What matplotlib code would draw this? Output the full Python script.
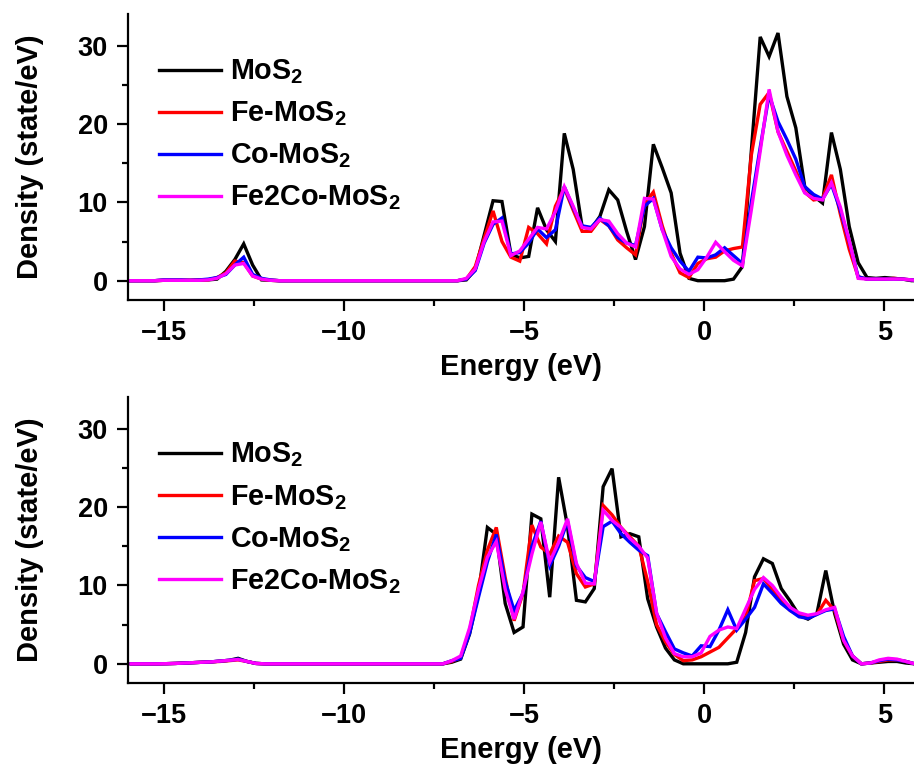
import numpy as np
import matplotlib
matplotlib.use("Agg")
import matplotlib.pyplot as plt
from matplotlib.ticker import MultipleLocator

plt.rcParams["font.family"] = ["Liberation Sans", "DejaVu Sans"]
plt.rcParams["font.weight"] = "bold"
plt.rcParams["mathtext.fontset"] = "custom"
plt.rcParams["mathtext.rm"] = "Liberation Sans:bold"
plt.rcParams["mathtext.bf"] = "Liberation Sans:bold"
plt.rcParams["axes.unicode_minus"] = True

# Energy grids (eV) of the two DOS panels
energy_top = np.linspace(-16.0, 6.0, 90)
energy_bottom = np.linspace(-15.91, 6.09, 90)

series_labels = [r"MoS$_\mathbf{2}$", r"Fe-MoS$_\mathbf{2}$",
                 r"Co-MoS$_\mathbf{2}$", r"Fe2Co-MoS$_\mathbf{2}$"]
series_colors = ["#000000", "#ff0000", "#0000ff", "#ff00ff"]

# ---- upper panel: density of states (state/eV) ----
mos2_top = [
    0.0, 0.0, 0.0, 0.0, 0.05, 0.05, 0.05, 0.05, 0.1, 0.1,
    0.2, 1.2, 2.7, 4.7, 2.0, 0.1, 0.05, 0.0, 0.0, 0.0,
    0.0, 0.0, 0.0, 0.0, 0.0, 0.0, 0.0, 0.0, 0.0, 0.0,
    0.0, 0.0, 0.0, 0.0, 0.0, 0.0, 0.0, 0.0, 0.1, 1.4,
    5.8, 10.2, 10.1, 3.4, 2.9, 3.1, 9.3, 6.5, 5.0, 18.8,
    14.2, 6.9, 6.6, 8.2, 11.6, 10.3, 6.3, 2.7, 6.9, 17.4,
    14.4, 11.2, 3.5, 0.3, 0.0, 0.0, 0.0, 0.0, 0.2, 1.8,
    16.5, 31.1, 28.6, 31.6, 23.5, 19.5, 12.0, 10.8, 9.9, 18.9,
    14.2, 6.9, 2.3, 0.4, 0.3, 0.4, 0.3, 0.2, 0.0, 0.0,
]
fe_top = [
    0.0, 0.0, 0.0, 0.0, 0.05, 0.05, 0.05, 0.05, 0.05, 0.1,
    0.4, 1.0, 2.5, 2.3, 0.6, 0.2, 0.05, 0.0, 0.0, 0.0,
    0.0, 0.0, 0.0, 0.0, 0.0, 0.0, 0.0, 0.0, 0.0, 0.0,
    0.0, 0.0, 0.0, 0.0, 0.0, 0.0, 0.0, 0.0, 0.2, 1.8,
    5.4, 8.9, 5.0, 3.0, 2.5, 6.8, 6.0, 4.7, 9.5, 11.8,
    9.0, 6.3, 6.3, 7.8, 7.0, 5.2, 4.2, 3.3, 9.8, 11.3,
    7.0, 3.5, 1.0, 0.4, 2.2, 2.8, 3.0, 3.8, 4.1, 4.3,
    16.0, 22.5, 24.0, 19.0, 16.5, 14.0, 11.3, 10.3, 10.5, 13.5,
    8.5, 4.0, 0.5, 0.2, 0.2, 0.2, 0.3, 0.2, 0.1, 0.0,
]
co_top = [
    0.0, 0.0, 0.0, 0.0, 0.1, 0.1, 0.1, 0.05, 0.1, 0.2,
    0.4, 0.8, 2.0, 3.0, 0.8, 0.3, 0.1, 0.0, 0.0, 0.0,
    0.0, 0.0, 0.0, 0.0, 0.0, 0.0, 0.0, 0.0, 0.0, 0.0,
    0.0, 0.0, 0.0, 0.0, 0.0, 0.0, 0.0, 0.0, 0.2, 1.3,
    4.8, 7.2, 8.0, 3.4, 3.6, 4.8, 6.6, 5.5, 6.5, 12.0,
    9.3, 7.0, 6.8, 8.0, 7.0, 5.5, 4.8, 4.5, 9.5, 10.5,
    6.5, 4.2, 2.5, 1.2, 3.0, 2.9, 3.3, 4.2, 3.2, 2.2,
    10.0, 17.0, 23.7, 20.3, 18.0, 15.5, 12.0, 11.0, 10.4, 12.3,
    9.0, 5.0, 0.5, 0.2, 0.2, 0.2, 0.2, 0.2, 0.1, 0.0,
]
fe2co_top = [
    0.0, 0.0, 0.0, 0.0, 0.05, 0.05, 0.05, 0.05, 0.05, 0.1,
    0.3, 0.9, 2.0, 2.2, 0.6, 0.2, 0.05, 0.0, 0.0, 0.0,
    0.0, 0.0, 0.0, 0.0, 0.0, 0.0, 0.0, 0.0, 0.0, 0.0,
    0.0, 0.0, 0.0, 0.0, 0.0, 0.0, 0.0, 0.0, 0.3, 1.5,
    5.0, 7.5, 7.6, 3.2, 3.8, 5.3, 6.8, 6.6, 8.8, 12.0,
    9.5, 6.8, 6.6, 7.8, 7.6, 6.0, 4.8, 4.3, 10.5, 10.4,
    6.5, 3.1, 1.5, 0.8, 1.4, 3.0, 4.9, 3.7, 2.6, 1.9,
    9.0, 16.5, 24.4, 19.0, 16.0, 13.5, 11.2, 10.5, 10.3, 12.5,
    9.4, 5.1, 0.3, 0.2, 0.2, 0.2, 0.2, 0.2, 0.1, 0.0,
]

# ---- lower panel: density of states (state/eV) ----
mos2_bottom = [
    0.0, 0.0, 0.0, 0.0, 0.02, 0.05, 0.1, 0.15, 0.2, 0.25,
    0.35, 0.45, 0.7, 0.3, 0.05, 0.0, 0.0, 0.0, 0.0, 0.0,
    0.0, 0.0, 0.0, 0.0, 0.0, 0.0, 0.0, 0.0, 0.0, 0.0,
    0.0, 0.0, 0.0, 0.0, 0.0, 0.0, 0.2, 0.6, 3.8, 9.0,
    17.4, 16.5, 7.7, 4.0, 4.7, 19.1, 18.5, 8.5, 23.8, 17.5,
    8.1, 7.9, 9.6, 22.6, 24.9, 16.2, 16.6, 16.2, 8.3, 4.7,
    2.0, 0.5, 0.0, 0.0, 0.0, 0.0, 0.0, 0.0, 0.2, 4.0,
    11.1, 13.4, 12.8, 9.6, 8.0, 6.2, 5.7, 6.4, 11.9, 6.4,
    2.5, 0.5, 0.0, 0.1, 0.2, 0.3, 0.3, 0.1, 0.0, 0.0,
]
fe_bottom = [
    0.0, 0.0, 0.0, 0.0, 0.02, 0.05, 0.1, 0.15, 0.2, 0.25,
    0.3, 0.4, 0.5, 0.3, 0.05, 0.0, 0.0, 0.0, 0.0, 0.0,
    0.0, 0.0, 0.0, 0.0, 0.0, 0.0, 0.0, 0.0, 0.0, 0.0,
    0.0, 0.0, 0.0, 0.0, 0.0, 0.0, 0.3, 0.8, 4.2, 10.0,
    14.5, 17.4, 11.0, 5.5, 9.0, 17.7, 14.9, 14.0, 16.3, 15.5,
    11.5, 9.8, 10.2, 20.2, 19.0, 17.4, 16.2, 15.0, 10.5, 5.0,
    2.8, 1.2, 0.4, 0.5, 0.9, 1.5, 2.1, 3.3, 4.5, 6.0,
    10.6, 10.9, 9.5, 8.0, 6.8, 6.2, 6.0, 6.3, 8.1, 6.8,
    3.0, 1.0, 0.0, 0.1, 0.3, 0.5, 0.5, 0.3, 0.0, 0.0,
]
co_bottom = [
    0.0, 0.0, 0.0, 0.0, 0.02, 0.05, 0.1, 0.15, 0.2, 0.25,
    0.35, 0.45, 0.6, 0.3, 0.05, 0.0, 0.0, 0.0, 0.0, 0.0,
    0.0, 0.0, 0.0, 0.0, 0.0, 0.0, 0.0, 0.0, 0.0, 0.0,
    0.0, 0.0, 0.0, 0.0, 0.0, 0.0, 0.4, 0.7, 3.9, 8.5,
    13.0, 16.5, 10.5, 6.8, 9.0, 15.0, 18.2, 12.5, 15.0, 18.2,
    12.5, 11.0, 10.5, 17.5, 18.2, 16.6, 15.5, 14.5, 13.8, 6.4,
    4.1, 1.9, 1.4, 1.0, 2.3, 2.2, 4.3, 6.9, 4.3, 5.7,
    7.2, 10.2, 9.0, 7.7, 6.8, 6.0, 5.8, 6.3, 6.8, 7.0,
    3.5, 1.0, 0.0, 0.1, 0.4, 0.6, 0.5, 0.3, 0.0, 0.0,
]
fe2co_bottom = [
    0.0, 0.0, 0.0, 0.0, 0.02, 0.05, 0.1, 0.15, 0.2, 0.25,
    0.35, 0.45, 0.55, 0.3, 0.05, 0.0, 0.0, 0.0, 0.0, 0.0,
    0.0, 0.0, 0.0, 0.0, 0.0, 0.0, 0.0, 0.0, 0.0, 0.0,
    0.0, 0.0, 0.0, 0.0, 0.0, 0.0, 0.4, 1.0, 4.6, 9.5,
    13.6, 15.6, 9.5, 5.7, 9.2, 14.0, 18.1, 13.0, 15.5, 18.5,
    12.8, 10.3, 10.2, 19.6, 18.3, 17.4, 16.0, 15.0, 13.5, 6.5,
    3.3, 1.3, 0.9, 0.9, 1.4, 3.5, 4.3, 4.7, 4.5, 7.0,
    9.5, 11.0, 10.0, 8.5, 7.2, 6.5, 6.2, 6.4, 6.9, 7.2,
    3.0, 1.0, 0.0, 0.1, 0.5, 0.7, 0.6, 0.3, 0.0, 0.0,
]

panels = [
    (energy_top, [mos2_top, fe_top, co_top, fe2co_top]),
    (energy_bottom, [mos2_bottom, fe_bottom, co_bottom, fe2co_bottom]),
]

fig = plt.figure(figsize=(9.14, 7.67), dpi=100)
axes_boxes = [[0.140, 0.609, 0.860, 0.373], [0.140, 0.1095, 0.860, 0.373]]

for box, (energy, series) in zip(axes_boxes, panels):
    ax = fig.add_axes(box)
    for values, label, color in zip(series, series_labels, series_colors):
        ax.plot(energy, values, color=color, lw=2.4, label=label,
                solid_joinstyle="miter")
    ax.set_xlim(-16, 5.82)
    ax.set_ylim(-2.45, 34.05)
    ax.xaxis.set_major_locator(MultipleLocator(5))
    ax.xaxis.set_minor_locator(MultipleLocator(2.5))
    ax.yaxis.set_major_locator(MultipleLocator(10))
    ax.yaxis.set_minor_locator(MultipleLocator(5))
    for side in ("top", "right"):
        ax.spines[side].set_visible(False)
    for side in ("left", "bottom"):
        ax.spines[side].set_linewidth(1.6)
    ax.tick_params(which="major", direction="out", length=8, width=1.6,
                   labelsize=19.5, pad=6.5)
    ax.tick_params(which="minor", direction="out", length=4.5, width=1.6)
    ax.set_xlabel("Energy (eV)", fontsize=21, fontweight="bold", labelpad=5)
    ax.set_ylabel("Density (state/eV)", fontsize=21, fontweight="bold",
                  labelpad=24)
    ax.legend(loc="upper left", bbox_to_anchor=(0.040, 0.847), frameon=False,
              fontsize=20.7, handlelength=2.15, handletextpad=0.3,
              labelspacing=0.46, borderaxespad=0, borderpad=0)

fig.savefig("out.png", dpi=100)
